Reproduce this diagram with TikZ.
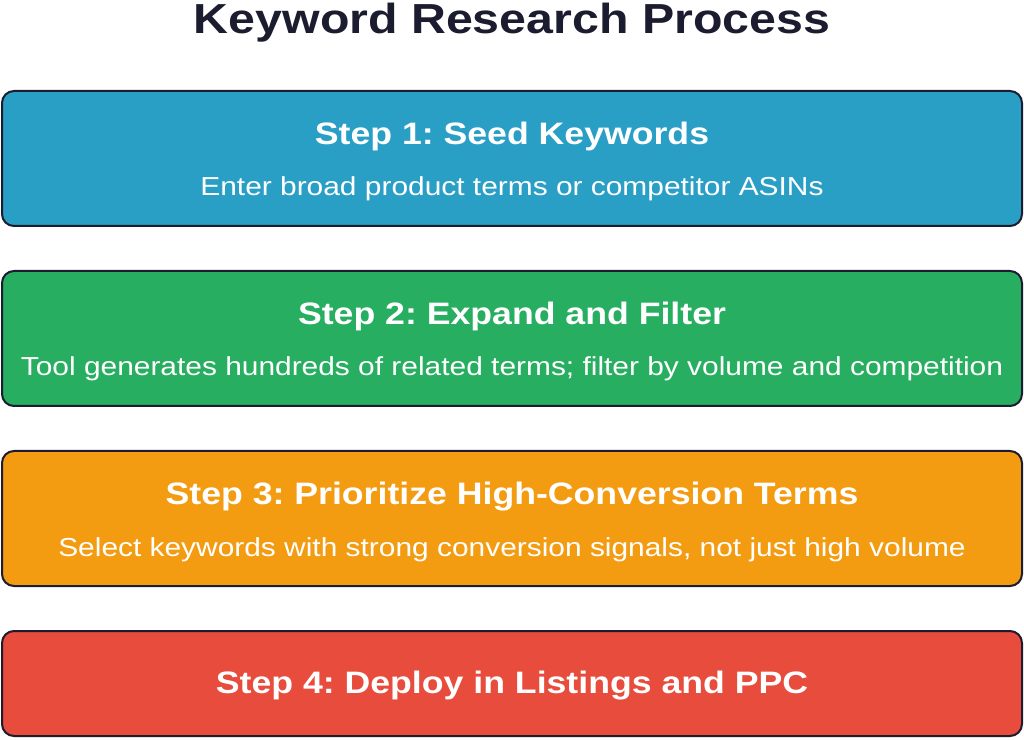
\documentclass[tikz,border=0pt]{standalone}
\usepackage{fontspec}
\setmainfont[FakeStretch=1.15]{Liberation Sans}
\usetikzlibrary{positioning}
\definecolor{stepblue}{HTML}{2A9FC6}
\definecolor{stepgreen}{HTML}{27AE60}
\definecolor{steporange}{HTML}{F39C12}
\definecolor{stepred}{HTML}{E74C3C}
\definecolor{edgenavy}{HTML}{1C1C30}
\frenchspacing
\tikzset{
  stepbox/.style={rectangle, rounded corners=12pt, minimum width=1020pt, minimum height=135pt, text centered, draw=edgenavy, line width=2pt},
  head/.style={anchor=base, text=white, font=\bfseries\fontsize{31}{36}\selectfont},
  sub/.style={anchor=base, text=white, font=\fontsize{26}{30}\selectfont},
  node distance=43pt
}
\begin{document}
\begin{tikzpicture}[x=1pt,y=1pt]
	\useasboundingbox (0,0) rectangle (1024,739);
	\node[anchor=base, font=\bfseries\fontsize{42}{48}\selectfont, text=edgenavy] (title) at (512,705) {Keyword Research Process};

	\node[stepbox, fill=stepblue] (seed) at (512,580.5) {};
	\node[stepbox, fill=stepgreen, below=of seed] (expand) {};
	\node[stepbox, fill=steporange, below=of expand] (prio) {};
	\node[stepbox, fill=stepred, minimum height=105pt, below=of prio] (deploy) {};
	%
	\node[head] (seedhead) at ([yshift=13.5pt]seed.center) {Step 1: Seed Keywords};
	\node[sub] (seedsub) at ([yshift=-37.5pt]seed.center) {Enter broad product terms or competitor ASINs};

	\node[head] (expandhead) at ([yshift=13.5pt]expand.center) {Step 2: Expand and Filter};
	\node[sub] (expandsub) at ([yshift=-37.5pt]expand.center) {Tool generates hundreds of related terms; filter by volume and competition};

	\node[head] (priohead) at ([yshift=13.5pt]prio.center) {Step 3: Prioritize High-Conversion Terms};
	\node[sub] (priosub) at ([yshift=-37.5pt]prio.center) {Select keywords with strong conversion signals, not just high volume};

	\node[head] (deployhead) at ([yshift=-9.5pt]deploy.center) {Step 4: Deploy in Listings and PPC};
\end{tikzpicture}
\end{document}
